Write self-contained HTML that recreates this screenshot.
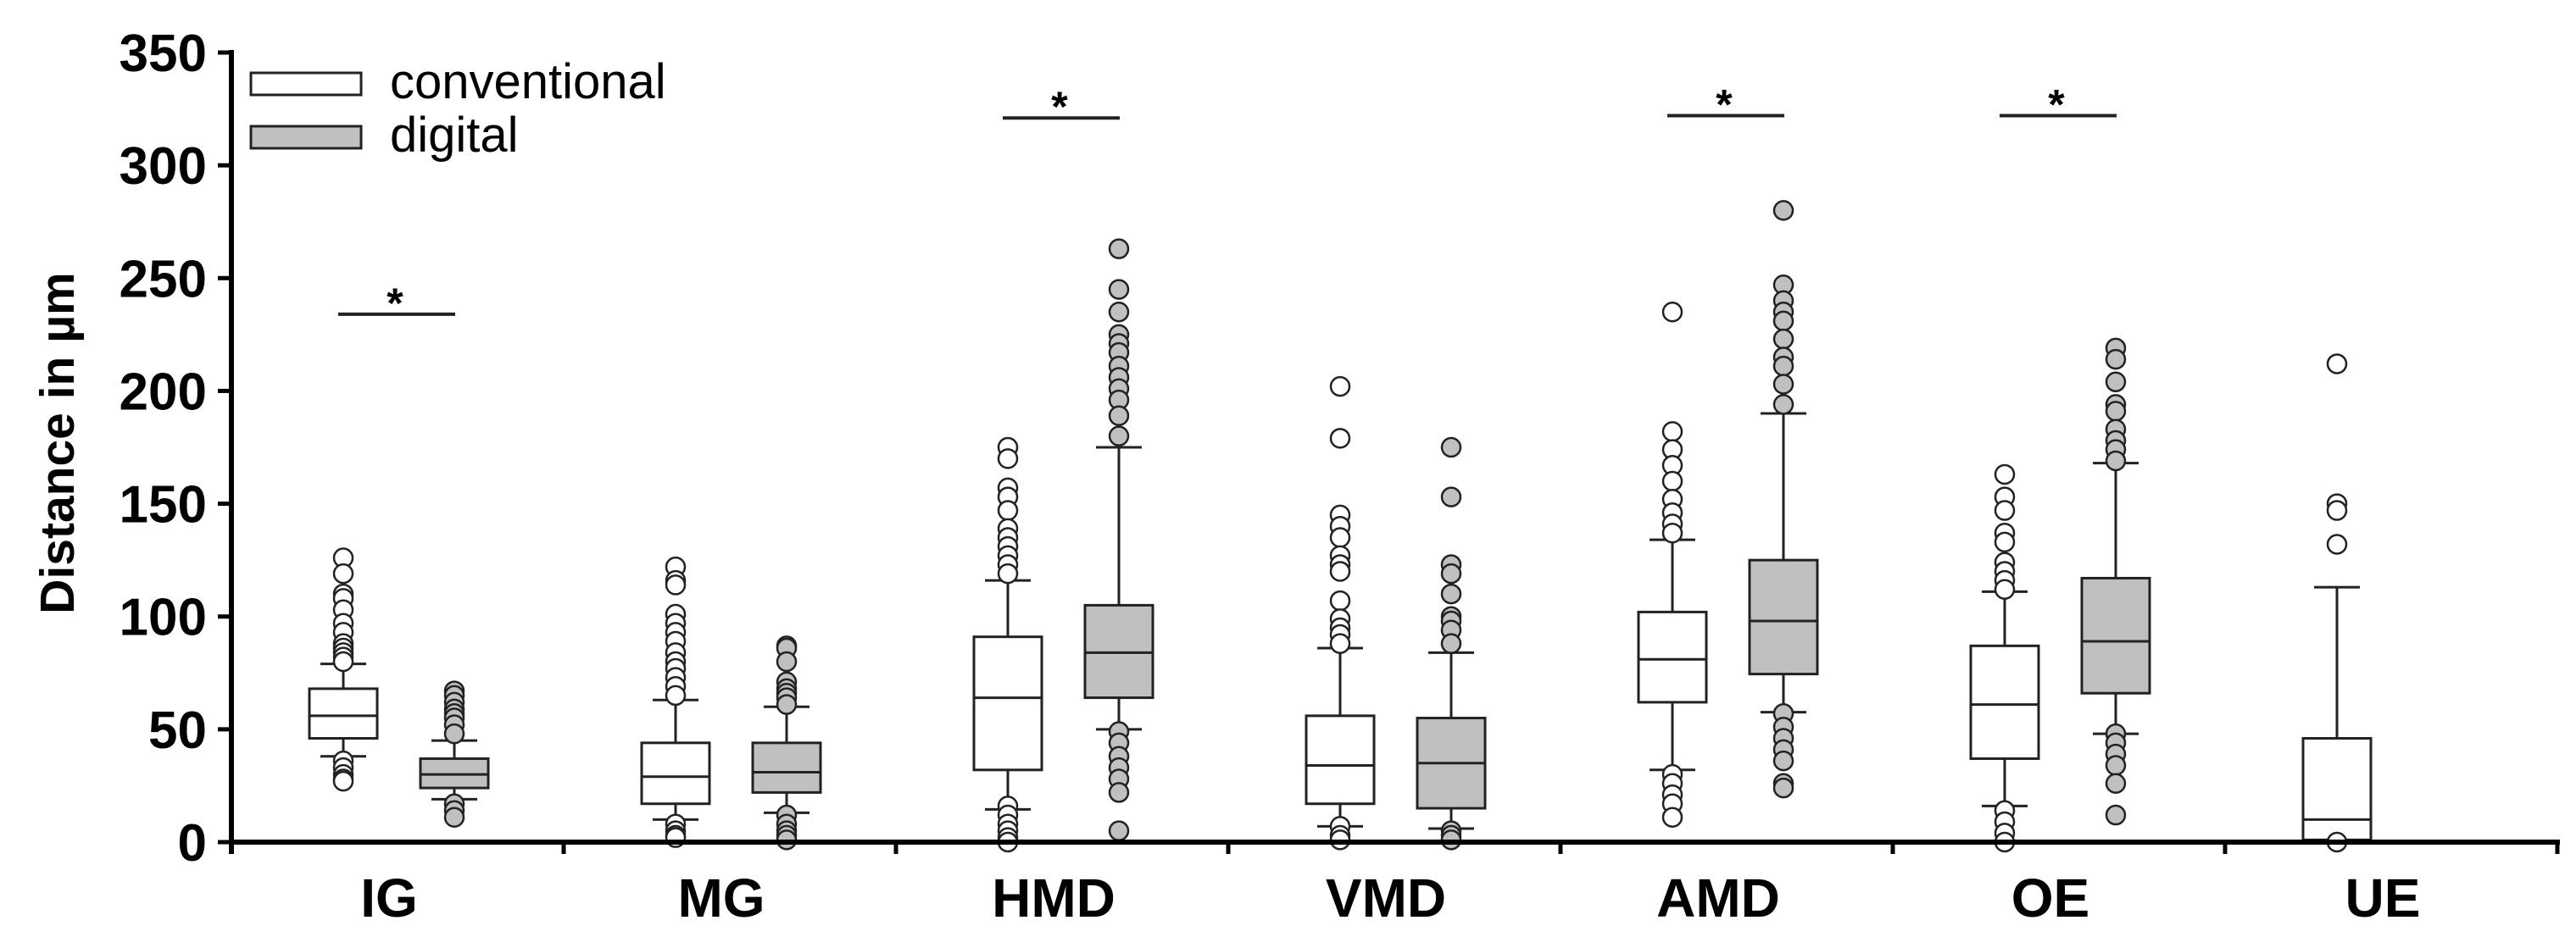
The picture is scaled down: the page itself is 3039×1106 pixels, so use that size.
<!DOCTYPE html>
<html><head><meta charset="utf-8"><style>
html,body{margin:0;padding:0;background:#fff;}
svg{display:block;}
</style></head><body>
<svg id="chart" width="3039" height="1106" viewBox="0 0 3039 1106" xmlns="http://www.w3.org/2000/svg" font-family="'Liberation Sans', Arial, sans-serif">
<g id="marks"></g>
<text transform="translate(87,523) rotate(-90)" text-anchor="middle" font-weight="bold" font-size="57">Distance in µm</text>
<g>
<rect x="296" y="86" width="130" height="26" fill="#fff" stroke="#222" stroke-width="3"/>
<text x="460" y="116" font-size="58">conventional</text>
<rect x="296" y="149" width="130" height="26" fill="#c0c0c0" stroke="#222" stroke-width="3"/>
<text x="460" y="179" font-size="58">digital</text>
</g>
</svg>
<script>
const categories = ["IG","MG","HMD","VMD","AMD","OE","UE"];
const convQ1 = [46,17,32,17,62,37,1];
const convMed = [56,29,64,34,81,61,10];
const convQ3 = [68,44,91,56,102,87,46];
const convWLo = [38,10,14.5,7,32,16,0];
const convWHi = [79,63,116,86,134,111,113];
const convOut = [
 [126,119,110,108,103,97,93,88,86,84,82,80,36,33,30,28,27],
 [122,116,114,101,97,93,89,84,80,77,73,69,65,8,5,3,2],
 [175,170,157,153,147,139,135,131,127,123,119,16,12,8,5,2,0],
 [202,179,145,140,135,127,123,120,107,99,95,92,88,7,3,1],
 [235,182,174,167,160,152,146,141,137,30,26,21,17,11],
 [163,153,147,137,133,124,120,116,112,14,9,4,0],
 [212,150,147,132,0]
];
const digQ1 = [24,22,64,15,74.5,66,null];
const digMed = [30,31,84,35,98,89,null];
const digQ3 = [37,44,105,55,125,117,null];
const digWLo = [19,13,50,6,57.6,48,null];
const digWHi = [45,60,175,84,190,168,null];
const digOut = [
 [67,65,62,59,57,55,52,48,17,14,11],
 [87,86,80,71,68,66,64,61,12,8,5,3,1],
 [263,245,235,225,221,217,211,206,201,196,189,180,49,44,38,33,28,22,5],
 [175,153,123,119,110,100,98,94,88,5,3,1],
 [280,247,240,235,231,223,215,211,203,194,57,51,46,41,36,26,24],
 [219,214,204,194,191,183,178,174,169,48,44,39,34,26,12],
 []
];
const yTicks = [0,50,100,150,200,250,300,350];
const sigCats = ["IG","HMD","AMD","OE"];
const sigLevels = [234,321,322,322];

const NS = "http://www.w3.org/2000/svg";
const X0 = 273, X1 = 3017, Y0 = 994, Y350 = 62;
const catW = (X1 - X0) / categories.length;
function yScale(v){ return Y0 - v * (Y0 - Y350) / 350; }
function xCenter(i){ return X0 + catW * (i + 0.5); }
const g = document.getElementById('marks');
function mk(tag, attrs, parent){
  const e = document.createElementNS(NS, tag);
  for (const k in attrs) e.setAttribute(k, attrs[k]);
  (parent || g).appendChild(e);
  return e;
}
function drawBox(i, off, q1, med, q3, wlo, whi, outs, fill, series){
  const cx = xCenter(i) + off, bw = 80, cw = 54;
  const grp = mk('g', {});
  
  
  const st = {stroke:'#222','stroke-width':3};
  mk('line', Object.assign({x1:cx,x2:cx,y1:yScale(q3),y2:yScale(whi)},st), grp);
  mk('line', Object.assign({x1:cx,x2:cx,y1:yScale(q1),y2:yScale(wlo)},st), grp);
  mk('line', Object.assign({x1:cx-cw/2,x2:cx+cw/2,y1:yScale(whi),y2:yScale(whi)},st), grp);
  if (wlo > 0) mk('line', Object.assign({x1:cx-cw/2,x2:cx+cw/2,y1:yScale(wlo),y2:yScale(wlo)},st), grp);
  mk('rect', Object.assign({x:cx-bw/2,y:yScale(q3),width:bw,height:yScale(q1)-yScale(q3),fill:fill},st), grp);
  mk('line', Object.assign({x1:cx-bw/2,x2:cx+bw/2,y1:yScale(med),y2:yScale(med)},st), grp);
  outs.forEach(v => {
    const c = mk('circle', {cx:cx, cy:yScale(v), r:11, fill:fill, stroke:'#222','stroke-width':2.5}, grp);
    
    
  });
}
categories.forEach((c, i) => {
  drawBox(i, -64, convQ1[i], convMed[i], convQ3[i], convWLo[i], convWHi[i], convOut[i], '#fff', 'conventional');
  if (digQ1[i] !== null) drawBox(i, 67, digQ1[i], digMed[i], digQ3[i], digWLo[i], digWHi[i], digOut[i], '#c0c0c0', 'digital');
  const t = mk('text', {x:xCenter(i)-10, y:1082, 'text-anchor':'middle','font-weight':'bold','font-size':64});
  t.textContent = c;
  
  
});
sigCats.forEach((c, k) => {
  const i = categories.indexOf(c);
  const y = yScale(sigLevels[k]);
  const l = mk('line', {x1:xCenter(i)-70, x2:xCenter(i)+68, y1:y, y2:y, stroke:'#222','stroke-width':4});
  
  
  const s = mk('text', {x:xCenter(i)-3, y:y+4, 'text-anchor':'middle','font-weight':'bold','font-size':50});
  s.textContent = '*';
  
  
});
const ya = mk('line', {x1:X0, x2:X0, y1:Y350-3, y2:Y0+14, stroke:'#000','stroke-width':6});


const xa = mk('line', {x1:X0-3, x2:X1+3, y1:Y0, y2:Y0, stroke:'#000','stroke-width':6});


yTicks.forEach(v => {
  mk('line', {x1:X0-16, x2:X0, y1:yScale(v), y2:yScale(v), stroke:'#000','stroke-width':5});
  const t = mk('text', {x:244, y:yScale(v)+22, 'text-anchor':'end','font-weight':'bold','font-size':62});
  t.textContent = v;
  
  
});
for (let i = 0; i <= categories.length; i++) {
  mk('line', {x1:X0+catW*i, x2:X0+catW*i, y1:Y0, y2:Y0+14, stroke:'#000','stroke-width':5});
}
</script>
</body></html>
